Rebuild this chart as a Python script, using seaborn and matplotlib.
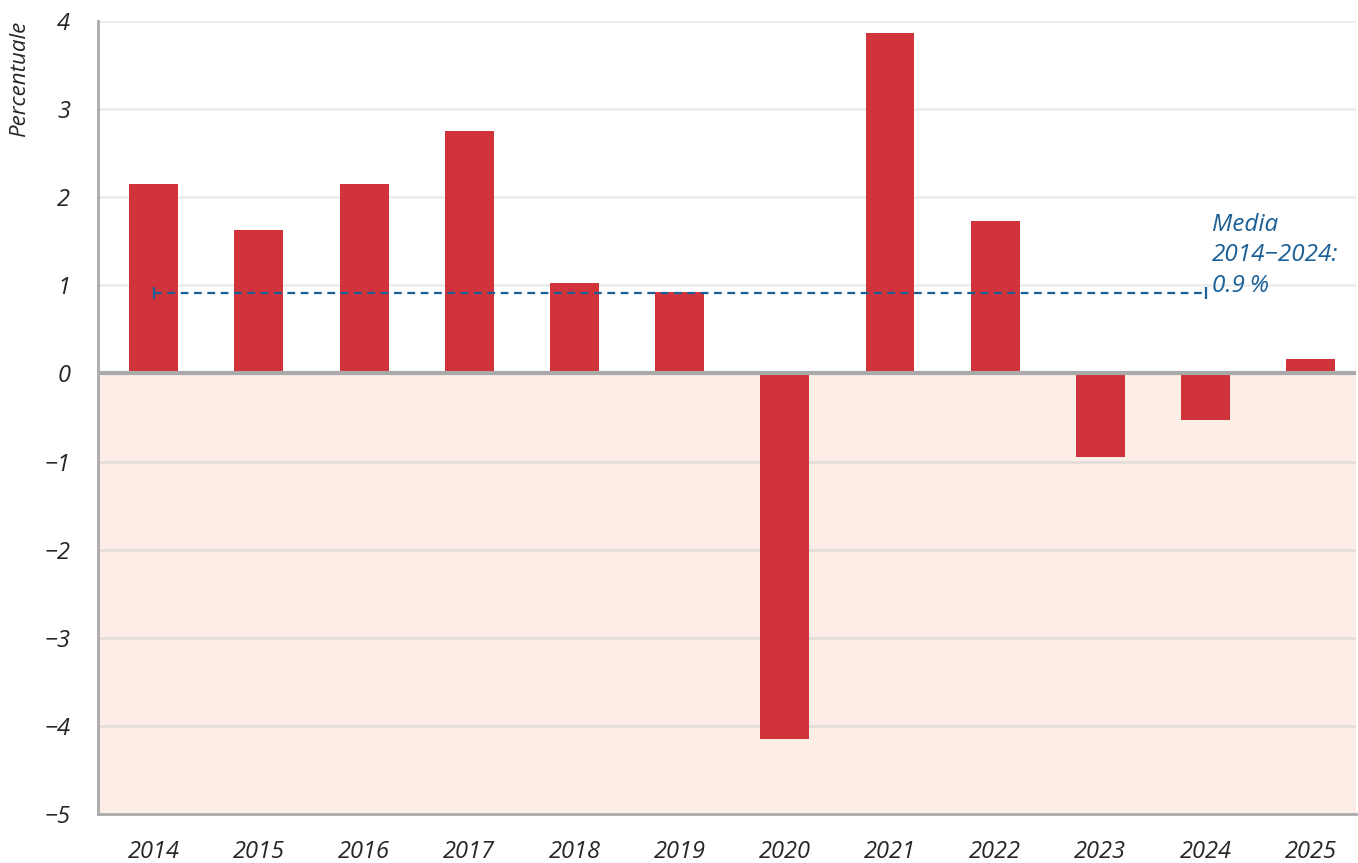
import matplotlib
matplotlib.use("Agg")
import matplotlib.pyplot as plt
import numpy as np
import pandas as pd
import seaborn as sns

# Data
years = ["2014", "2015", "2016", "2017", "2018", "2019",
         "2020", "2021", "2022", "2023", "2024", "2025"]
values = [2.15, 1.63, 2.15, 2.75, 1.03, 0.92,
          -4.15, 3.86, 1.73, -0.95, -0.53, 0.16]
mean_value = 0.91
mean_start, mean_end = "2014", "2024"
mean_label = "Media\n2014\u22122024:\n0.9\u202f%"
y_ticks = [-5, -4, -3, -2, -1, 0, 1, 2, 3, 4]
y_label = "Percentuale"

BAR_RED = "#d0343a"
NEG_FILL = "#fcede6"
GRID = "#ebebeb"
AXIS_GREY = "#aaaaaa"
MEAN_BLUE = "#1a5f96"

sns.set_style("white")
plt.rcParams["font.family"] = ["Open Sans", "DejaVu Sans"]

df = pd.DataFrame({"year": years, "value": values})

fig = plt.figure(figsize=(13.58, 8.63), dpi=100)
ax = fig.add_axes([98 / 1358, 49 / 863, 1258 / 1358, 793 / 863])

# negative area shading + grid
ax.axhspan(min(y_ticks), 0, color=NEG_FILL, zorder=0, lw=0)
for t in y_ticks:
    if t not in (0, min(y_ticks)):
        ax.axhline(t, color="#c8c8c8" if t < 0 else GRID,
                   alpha=0.45 if t < 0 else 1, lw=1.8, zorder=0.5)

sns.barplot(data=df, x="year", y="value", color=BAR_RED, width=0.465,
            saturation=1, linewidth=0, ax=ax, zorder=2)

ax.axhline(0, color=AXIS_GREY, lw=3, zorder=3)

# average line
i0, i1 = years.index(mean_start), years.index(mean_end)
ax.plot([i0, i1], [mean_value, mean_value], ls=(0, (3.5, 2.5)),
        color=MEAN_BLUE, lw=1.6, zorder=4)
ax.plot([i0, i1], [mean_value, mean_value], ls="none", marker="|",
        ms=8, mew=1.6, color=MEAN_BLUE, zorder=4)
ax.text(i1 + 0.06, 1.82, mean_label, color=MEAN_BLUE, fontsize=17.5,
        style="italic", va="top", ha="left", linespacing=1.35, zorder=5)

ax.set_ylim(min(y_ticks), max(y_ticks))
ax.set_xlim(-0.53, len(years) - 0.57)
ax.set_yticks(y_ticks)
ax.set_yticklabels([str(t).replace("-", "\u2212") for t in y_ticks])
ax.set_xlabel("")
ax.set_ylabel(y_label, loc="top", fontsize=16, style="italic", labelpad=10)

for s in ["top", "right"]:
    ax.spines[s].set_visible(False)
for s in ["left", "bottom"]:
    ax.spines[s].set_color(AXIS_GREY)
    ax.spines[s].set_linewidth(2)
ax.tick_params(axis="both", length=16, width=2, color=AXIS_GREY,
               labelsize=17, direction="out")
ax.tick_params(axis="y", pad=4)
ax.tick_params(axis="x", pad=3)
for lbl in ax.get_xticklabels() + ax.get_yticklabels():
    lbl.set_style("italic")

fig.savefig("out.png", dpi=100)
